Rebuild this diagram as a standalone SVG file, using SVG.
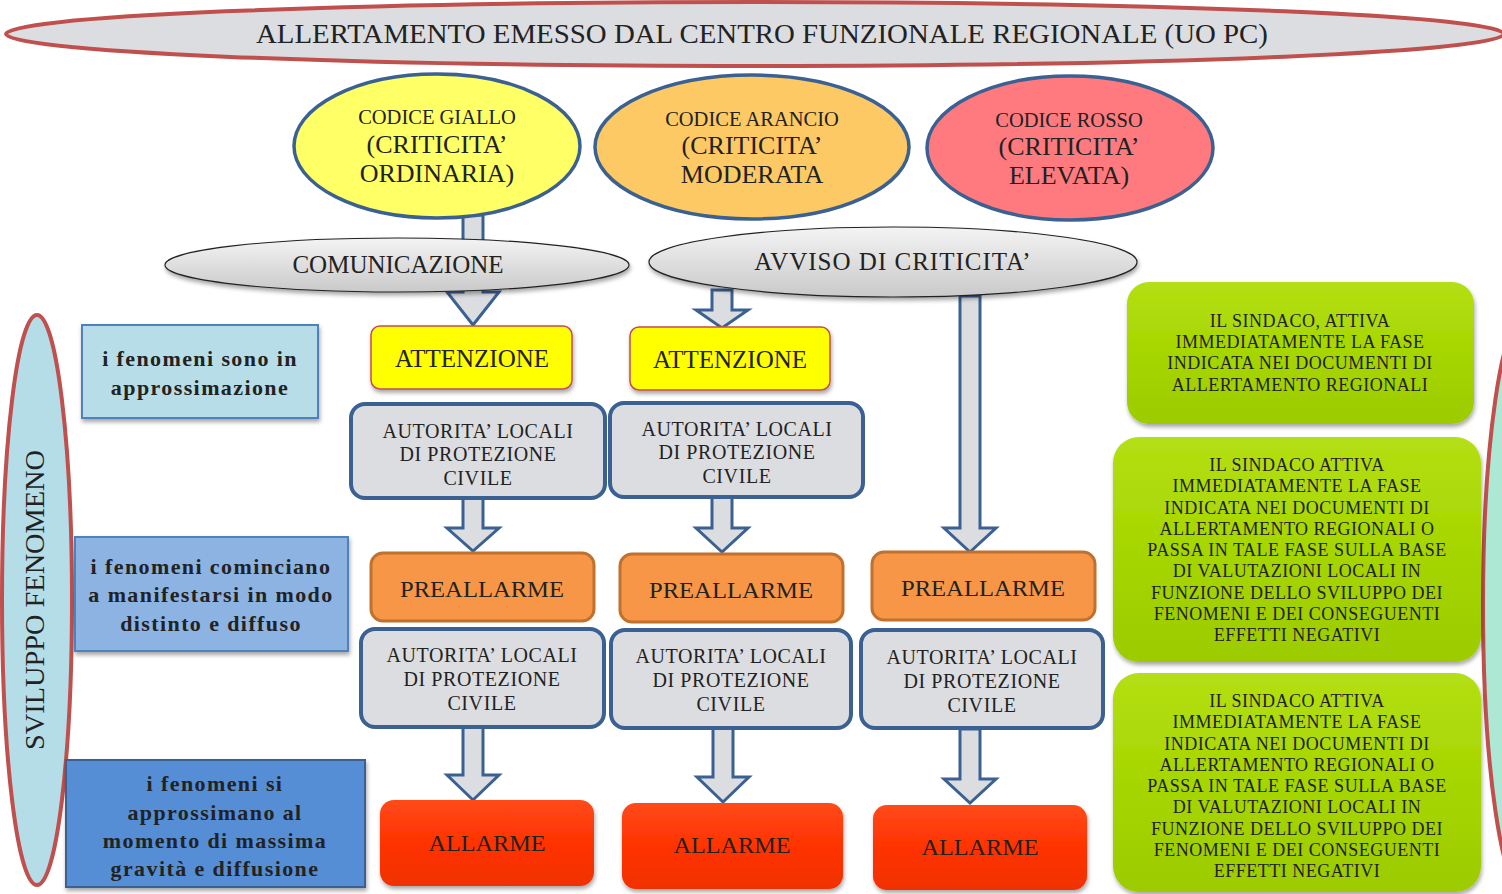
<svg xmlns="http://www.w3.org/2000/svg" width="1502" height="894" viewBox="0 0 1502 894">
<defs>
<linearGradient id="gGray" x1="0" y1="0" x2="0" y2="1"><stop offset="0" stop-color="#f4f4f4"/><stop offset="1" stop-color="#c9c9c9"/></linearGradient>
<linearGradient id="gGreen" x1="0" y1="0" x2="0" y2="1"><stop offset="0" stop-color="#b4df14"/><stop offset="0.5" stop-color="#a6d600"/><stop offset="1" stop-color="#9ccb00"/></linearGradient>
<linearGradient id="gRed" x1="0" y1="0" x2="0" y2="1"><stop offset="0" stop-color="#ff4a1a"/><stop offset="0.5" stop-color="#ff3300"/><stop offset="1" stop-color="#f03000"/></linearGradient>
<filter id="sh" x="-10%" y="-10%" width="120%" height="130%"><feDropShadow dx="1" dy="3" stdDeviation="2" flood-color="#000" flood-opacity="0.35"/></filter>
<style>
text{font-family:"Liberation Serif","Times New Roman",serif;fill:#222;text-anchor:middle}
.arr{fill:#dcdde0;stroke:#3b6193;stroke-width:3;stroke-linejoin:miter}
.code{stroke:#3b6193;stroke-width:3.5}
.grey{fill:url(#gGray);stroke:#222;stroke-width:1.2}
.att{fill:#ffff00;stroke:#c0504d;stroke-width:1.5}
.aut{fill:#dcdde0;stroke:#3b6193;stroke-width:4}
.pre{fill:#f79646;stroke:#c0712e;stroke-width:3}
.all{fill:url(#gRed)}
.grn{fill:url(#gGreen)}
.lbl{stroke-width:2}
.big{font-size:23px}
.c1{font-size:20.5px}
.c2{font-size:26px}
.aut-t{font-size:20px;letter-spacing:0.6px}
.grn-t{font-size:18px;letter-spacing:0.5px}
.lbl-t{font-size:22px;font-weight:bold;letter-spacing:1.4px}
</style>
</defs>
<rect width="1502" height="894" fill="#fff"/>

<g id="connectors">
<polygon class="arr" points="463,215 483,215 483,292 499,292 473,325 447,292 463,292"/>
<polygon class="arr" points="712,290 732,290 732,310 748,310 722,328 696,310 712,310"/>
<polygon class="arr" points="960,296 980,296 980,528 996,528 970,552 944,528 960,528"/>
<polygon class="arr" points="463,498 483,498 483,528 499,528 473,551 447,528 463,528"/>
<polygon class="arr" points="712,497 732,497 732,528 748,528 722,552 696,528 712,528"/>
<polygon class="arr" points="463,727 483,727 483,775 499,775 473,800 447,775 463,775"/>
<polygon class="arr" points="713,728 733,728 733,777 749,777 723,802 697,777 713,777"/>
<polygon class="arr" points="960,729 980,729 980,779 996,779 970,803 944,779 960,779"/>
</g>

<g id="title">
<ellipse cx="755" cy="34" rx="749" ry="32" fill="#dcdde0" stroke="#c0504d" stroke-width="4"/>
<text x="762" y="43" font-size="27" textLength="1012" lengthAdjust="spacingAndGlyphs">ALLERTAMENTO EMESSO DAL CENTRO FUNZIONALE REGIONALE (UO PC)</text>
</g>

<g id="codice-giallo">
<ellipse class="code" cx="437" cy="146" rx="143" ry="72" fill="#ffff66"/>
<text class="c1" x="437" y="124">CODICE GIALLO</text>
<text class="c2" x="437" y="153">(CRITICITA’</text>
<text class="c2" x="437" y="182">ORDINARIA)</text>
</g>
<g id="codice-arancio">
<ellipse class="code" cx="752" cy="147" rx="157" ry="72" fill="#fdc964"/>
<text class="c1" x="752" y="126">CODICE ARANCIO</text>
<text class="c2" x="752" y="154">(CRITICITA’</text>
<text class="c2" x="752" y="183">MODERATA</text>
</g>
<g id="codice-rosso">
<ellipse class="code" cx="1070" cy="148" rx="143" ry="72" fill="#ff7a7f"/>
<text class="c1" x="1069" y="127">CODICE ROSSO</text>
<text class="c2" x="1069" y="155">(CRITICITA’</text>
<text class="c2" x="1069" y="184">ELEVATA)</text>
</g>

<g id="comunicazione">
<ellipse class="grey" cx="397" cy="265" rx="232" ry="27" filter="url(#sh)"/>
<text x="398" y="273" font-size="25">COMUNICAZIONE</text>
</g>
<g id="avviso">
<ellipse class="grey" cx="893" cy="262" rx="244" ry="35" filter="url(#sh)"/>
<text x="893" y="270" font-size="25" letter-spacing="1">AVVISO DI CRITICITA’</text>
</g>

<g id="attenzione-1">
<rect class="att" x="371" y="326" width="201" height="63" rx="9" filter="url(#sh)"/>
<text x="472" y="367" font-size="25">ATTENZIONE</text>
</g>
<g id="attenzione-2">
<rect class="att" x="630" y="327" width="200" height="63" rx="9" filter="url(#sh)"/>
<text x="730" y="368" font-size="25">ATTENZIONE</text>
</g>

<g id="autorita-1a">
<rect class="aut" x="351" y="404" width="254" height="94" rx="14"/>
<text class="aut-t" x="478" y="438">AUTORITA’ LOCALI</text>
<text class="aut-t" x="478" y="461">DI PROTEZIONE</text>
<text class="aut-t" x="478" y="485">CIVILE</text>
</g>
<g id="autorita-2a">
<rect class="aut" x="610" y="403" width="253" height="94" rx="14"/>
<text class="aut-t" x="737" y="436">AUTORITA’ LOCALI</text>
<text class="aut-t" x="737" y="459">DI PROTEZIONE</text>
<text class="aut-t" x="737" y="483">CIVILE</text>
</g>

<g id="preallarme-1">
<rect class="pre" x="371" y="553" width="223" height="68" rx="12"/>
<text class="big" x="482" y="597" textLength="164" lengthAdjust="spacingAndGlyphs">PREALLARME</text>
</g>
<g id="preallarme-2">
<rect class="pre" x="620" y="554" width="223" height="68" rx="12"/>
<text class="big" x="731" y="598" textLength="164" lengthAdjust="spacingAndGlyphs">PREALLARME</text>
</g>
<g id="preallarme-3">
<rect class="pre" x="872" y="552" width="223" height="68" rx="12"/>
<text class="big" x="983" y="596" textLength="164" lengthAdjust="spacingAndGlyphs">PREALLARME</text>
</g>

<g id="autorita-1b">
<rect class="aut" x="361" y="629" width="243" height="98" rx="14"/>
<text class="aut-t" x="482" y="662">AUTORITA’ LOCALI</text>
<text class="aut-t" x="482" y="686">DI PROTEZIONE</text>
<text class="aut-t" x="482" y="710">CIVILE</text>
</g>
<g id="autorita-2b">
<rect class="aut" x="611" y="630" width="240" height="98" rx="14"/>
<text class="aut-t" x="731" y="663">AUTORITA’ LOCALI</text>
<text class="aut-t" x="731" y="687">DI PROTEZIONE</text>
<text class="aut-t" x="731" y="711">CIVILE</text>
</g>
<g id="autorita-3b">
<rect class="aut" x="861" y="630" width="242" height="98" rx="14"/>
<text class="aut-t" x="982" y="664">AUTORITA’ LOCALI</text>
<text class="aut-t" x="982" y="688">DI PROTEZIONE</text>
<text class="aut-t" x="982" y="712">CIVILE</text>
</g>

<g id="allarme-1">
<rect class="all" x="380" y="800" width="214" height="86" rx="14" filter="url(#sh)"/>
<text class="big" x="487" y="851" textLength="117" lengthAdjust="spacingAndGlyphs">ALLARME</text>
</g>
<g id="allarme-2">
<rect class="all" x="622" y="803" width="221" height="86" rx="14" filter="url(#sh)"/>
<text class="big" x="732" y="853" textLength="117" lengthAdjust="spacingAndGlyphs">ALLARME</text>
</g>
<g id="allarme-3">
<rect class="all" x="873" y="805" width="214" height="85" rx="14" filter="url(#sh)"/>
<text class="big" x="980" y="855" textLength="117" lengthAdjust="spacingAndGlyphs">ALLARME</text>
</g>

<g id="sviluppo">
<ellipse cx="37" cy="600" rx="35" ry="285" fill="#b4dde8" stroke="#c0504d" stroke-width="4"/>
<text x="0" y="0" font-size="27" textLength="300" lengthAdjust="spacingAndGlyphs" transform="translate(44,600) rotate(-90)">SVILUPPO FENOMENO</text>
</g>

<g id="label-1">
<rect class="lbl" x="82" y="325" width="236" height="93" fill="#b7dee8" stroke="#4f81bd" filter="url(#sh)"/>
<text class="lbl-t" x="200" y="366">i fenomeni sono in</text>
<text class="lbl-t" x="200" y="395">approssimazione</text>
</g>
<g id="label-2">
<rect class="lbl" x="75" y="537" width="273" height="114" fill="#8db3e2" stroke="#4f81bd" filter="url(#sh)"/>
<text class="lbl-t" x="211" y="574">i fenomeni cominciano</text>
<text class="lbl-t" x="211" y="602">a manifestarsi in modo</text>
<text class="lbl-t" x="211" y="631">distinto e diffuso</text>
</g>
<g id="label-3">
<rect class="lbl" x="66" y="760" width="299" height="127" fill="#558ed5" stroke="#3b6193" filter="url(#sh)"/>
<text class="lbl-t" x="215" y="791">i fenomeni si</text>
<text class="lbl-t" x="215" y="820">approssimano al</text>
<text class="lbl-t" x="215" y="848">momento di massima</text>
<text class="lbl-t" x="215" y="876">gravità e diffusione</text>
</g>

<g id="right-ellipse">
<ellipse cx="1525" cy="605" rx="42" ry="290" fill="#ace8d4" stroke="#c0504d" stroke-width="4"/>
</g>

<g id="sindaco-1">
<rect class="grn" x="1127" y="282" width="347" height="142" rx="22" filter="url(#sh)"/>
<text class="grn-t" x="1300" y="327">IL SINDACO, ATTIVA</text>
<text class="grn-t" x="1300" y="348">IMMEDIATAMENTE LA FASE</text>
<text class="grn-t" x="1300" y="369">INDICATA NEI DOCUMENTI DI</text>
<text class="grn-t" x="1300" y="391">ALLERTAMENTO REGIONALI</text>
</g>
<g id="sindaco-2">
<rect class="grn" x="1113" y="437" width="368" height="225" rx="26" filter="url(#sh)"/>
<text class="grn-t" x="1297" y="471">IL SINDACO ATTIVA</text>
<text class="grn-t" x="1297" y="492">IMMEDIATAMENTE LA FASE</text>
<text class="grn-t" x="1297" y="514">INDICATA NEI DOCUMENTI DI</text>
<text class="grn-t" x="1297" y="535">ALLERTAMENTO REGIONALI O</text>
<text class="grn-t" x="1297" y="556">PASSA IN TALE FASE SULLA BASE</text>
<text class="grn-t" x="1297" y="577">DI VALUTAZIONI LOCALI IN</text>
<text class="grn-t" x="1297" y="599">FUNZIONE DELLO SVILUPPO DEI</text>
<text class="grn-t" x="1297" y="620">FENOMENI E DEI CONSEGUENTI</text>
<text class="grn-t" x="1297" y="641">EFFETTI NEGATIVI</text>
</g>
<g id="sindaco-3">
<rect class="grn" x="1113" y="673" width="368" height="219" rx="26" filter="url(#sh)"/>
<text class="grn-t" x="1297" y="707">IL SINDACO ATTIVA</text>
<text class="grn-t" x="1297" y="728">IMMEDIATAMENTE LA FASE</text>
<text class="grn-t" x="1297" y="750">INDICATA NEI DOCUMENTI DI</text>
<text class="grn-t" x="1297" y="771">ALLERTAMENTO REGIONALI O</text>
<text class="grn-t" x="1297" y="792">PASSA IN TALE FASE SULLA BASE</text>
<text class="grn-t" x="1297" y="813">DI VALUTAZIONI LOCALI IN</text>
<text class="grn-t" x="1297" y="835">FUNZIONE DELLO SVILUPPO DEI</text>
<text class="grn-t" x="1297" y="856">FENOMENI E DEI CONSEGUENTI</text>
<text class="grn-t" x="1297" y="877">EFFETTI NEGATIVI</text>
</g>
</svg>
